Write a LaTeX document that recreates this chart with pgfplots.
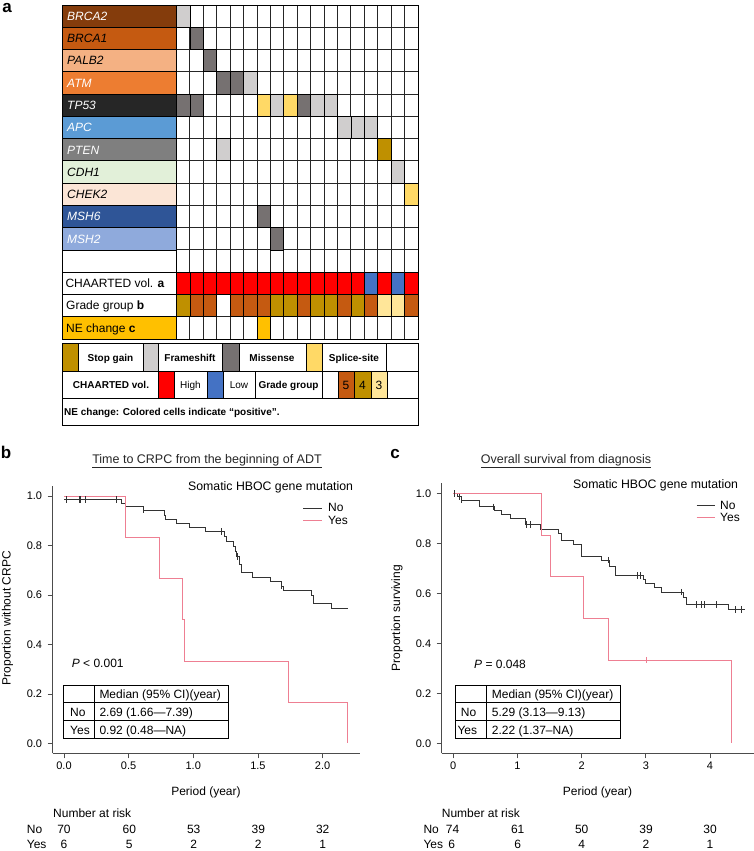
\documentclass[border=0pt]{standalone}
\usepackage{pgfplots}
\pgfplotsset{compat=1.18}
\usepackage{fontspec}
\setmainfont{Liberation Sans}
\newcommand\fs[1]{\fontsize{#1}{#1}\selectfont}
\definecolor{gBRCAii}{HTML}{843C0C}
\definecolor{gBRCAi}{HTML}{C55A11}
\definecolor{gPALB}{HTML}{F4B183}
\definecolor{gATM}{HTML}{ED7D31}
\definecolor{gTP}{HTML}{262626}
\definecolor{gAPC}{HTML}{5B9BD5}
\definecolor{gPTEN}{HTML}{7F7F7F}
\definecolor{gCDH}{HTML}{E2F0D9}
\definecolor{gCHEK}{HTML}{FBE5D6}
\definecolor{gMSHvi}{HTML}{2F5597}
\definecolor{gMSHii}{HTML}{8FAADC}
\definecolor{cStop}{HTML}{BF9000}
\definecolor{cFrame}{HTML}{D0CECE}
\definecolor{cMiss}{HTML}{767171}
\definecolor{cSplice}{HTML}{FFD966}
\definecolor{cHigh}{HTML}{FF0000}
\definecolor{cLow}{HTML}{4472C4}
\definecolor{cGv}{HTML}{C55A11}
\definecolor{cGiv}{HTML}{BF9000}
\definecolor{cGiii}{HTML}{FFE699}
\definecolor{cNE}{HTML}{FFC000}
\definecolor{kmno}{HTML}{333333}
\definecolor{kmyes}{HTML}{EE7F92}
\pgfdeclareplotmark{cell}{%
  \pgfpathrectangle{\pgfpoint{-6.708pt}{-11.133pt}}{\pgfpoint{13.417pt}{22.267pt}}%
  \pgfusepathqfillstroke}
\pgfplotsset{
  kmaxis/.style={anchor=south west, scale only axis,
    axis x line*=bottom, axis y line*=left,
    axis line style={black!70, line width=0.8pt, -},
    tick align=outside, major tick length=5pt,
    tick style={black!70, line width=0.8pt},
    ytick={0,0.2,0.4,0.6,0.8,1}, yticklabels={0.0,0.2,0.4,0.6,0.8,1.0},
    tick label style={font=\fs{11}},
    yticklabel style={xshift=-2pt},
    clip=false},
  cellplot/.style={only marks, mark=cell, mark options={draw=black, fill=#1, line width=0.8pt}}
}
\begin{document}
\begin{tikzpicture}
\path[use as bounding box] (0pt,0pt) rectangle (754pt,-851pt);
\begin{scope}[x=1pt,y=-1pt]
% panel labels
\node[anchor=center, font=\fs{17}\bfseries, inner sep=0] at (7,8) {a};
\node[anchor=center, font=\fs{17}\bfseries, inner sep=0] at (6,452) {b};
\node[anchor=center, font=\fs{17}\bfseries, inner sep=0] at (395,454) {c};
% gene label column
\foreach \r/\nm/\bg/\fg in {1/BRCA2/gBRCAii/white,2/BRCA1/gBRCAi/black,3/PALB2/gPALB/black,4/ATM/gATM/white,5/TP53/gTP/white,6/APC/gAPC/white,7/PTEN/gPTEN/white,8/CDH1/gCDH/black,9/CHEK2/gCHEK/black,10/MSH6/gMSHvi/white,11/MSH2/gMSHii/white}{
  \pgfmathsetmacro\yt{5+(\r-1)*22.267}
  \pgfmathsetmacro\yb{\yt+22.267}
  \draw[fill=\bg, draw=black, line width=0.8pt] (62,\yt) rectangle (176.5,\yb);
  \node[anchor=base west, inner sep=0, text=\fg, font=\fs{12}\itshape] at (67,{(\yt+\yb)/2+4.3}) {\nm};
}
\draw[fill=white, line width=0.8pt] (62,249.94) rectangle (176.5,272.2);
\draw[fill=white, line width=0.8pt] (62,272.2) rectangle (176.5,294.5);
\node[anchor=base west, inner sep=0, font=\fs{12}] at (65.3,287.6) {CHAARTED vol. \textbf{a}};
\draw[fill=white, line width=0.8pt] (62,294.5) rectangle (176.5,316.7);
\node[anchor=base west, inner sep=0, font=\fs{12}] at (66,309.9) {Grade group \textbf{b}};
\draw[fill=cNE, line width=0.8pt] (62,316.7) rectangle (176.5,339);
\node[anchor=base west, inner sep=0, font=\fs{12}] at (66,332.1) {NE change \textbf{c}};
% legend box
\begin{scope}[line width=0.8pt]
\draw[fill=cStop] (62,343.3) rectangle (78,371);
\draw (78,343.3) rectangle (143,371);
\draw[fill=cFrame] (143,343.3) rectangle (158,371);
\draw (158,343.3) rectangle (222,371);
\draw[fill=cMiss] (222,343.3) rectangle (239,371);
\draw (239,343.3) rectangle (306,371);
\draw[fill=cSplice] (306,343.3) rectangle (322,371);
\draw (322,343.3) rectangle (386,371);
\draw (386,343.3) rectangle (418,371);
\draw (62,371) rectangle (158,398);
\draw[fill=cHigh] (158,371) rectangle (174,398);
\draw (174,371) rectangle (207,398);
\draw[fill=cLow] (207,371) rectangle (223,398);
\draw (223,371) rectangle (255,398);
\draw (255,371) rectangle (322,398);
\draw (322,371) rectangle (338,398);
\draw[fill=cGv] (338,371) rectangle (354,398);
\draw[fill=cGiv] (354,371) rectangle (371,398);
\draw[fill=cGiii] (371,371) rectangle (387,398);
\draw (387,371) rectangle (418,398);
\draw (62,398) rectangle (418,425);
\end{scope}
\node[anchor=base, inner sep=0, font=\fs{10}\bfseries] at (110.5,361) {Stop gain};
\node[anchor=base, inner sep=0, font=\fs{10}\bfseries] at (190,361) {Frameshift};
\node[anchor=base, inner sep=0, font=\fs{10}\bfseries] at (272,361) {Missense};
\node[anchor=base, inner sep=0, font=\fs{10}\bfseries] at (354,361) {Splice-site};
\node[anchor=base, inner sep=0, font=\fs{10}\bfseries] at (111,388.5) {CHAARTED vol.};
\node[anchor=base, inner sep=0, font=\fs{10}] at (190.5,388.5) {High};
\node[anchor=base, inner sep=0, font=\fs{10}] at (239,388.5) {Low};
\node[anchor=base, inner sep=0, font=\fs{10}\bfseries] at (288.5,388) {Grade group};
\node[anchor=base, inner sep=0, font=\fs{12}] at (346,389) {5};
\node[anchor=base, inner sep=0, font=\fs{12}] at (362.5,389) {4};
\node[anchor=base, inner sep=0, font=\fs{12}] at (379,389) {3};
\node[anchor=base west, inner sep=0, font=\fs{10}\bfseries] at (64,415.5) {NE change: Colored cells indicate “positive”.};
% titles
\node[anchor=base, inner sep=0, font=\fs{12.5}, text=black!85] at (207,463) {\underline{Time to CRPC from the beginning of ADT}};
\node[anchor=base, inner sep=0, font=\fs{12.5}, text=black!85] at (566,463) {\underline{Overall survival from diagnosis}};
% panel b annotations
\node[anchor=base west, inner sep=0, font=\fs{12.3}] at (188,490.5) {Somatic HBOC gene mutation};
\draw[kmno, line width=0.75pt] (303,508.3) -- (322,508.3);
\node[anchor=base west, inner sep=0, font=\fs{12}] at (328,511.7) {No};
\draw[kmyes, line width=0.75pt] (303,520) -- (322,520);
\node[anchor=base west, inner sep=0, font=\fs{12}] at (328,524) {Yes};
\node[anchor=base west, inner sep=0, font=\fs{12}] at (71.7,667) {\textit{P} < 0.001};
\draw[line width=0.8pt] (63,685) rectangle (228,738.3);
\draw[line width=0.8pt] (63,702.7) -- (228,702.7) (63,720.5) -- (228,720.5) (94.5,685) -- (94.5,738.3);
\node[anchor=base west, inner sep=0, font=\fs{12}] at (99.3,698.5) {Median (95\% CI)(year)};
\node[anchor=base west, inner sep=0, font=\fs{12}] at (70,716.5) {No};
\node[anchor=base west, inner sep=0, font=\fs{12}] at (99.3,716.5) {2.69 (1.66—7.39)};
\node[anchor=base west, inner sep=0, font=\fs{12}] at (70,734.3) {Yes};
\node[anchor=base west, inner sep=0, font=\fs{12}] at (99.3,734.3) {0.92 (0.48—NA)};
\node[anchor=base, inner sep=0, font=\fs{12}] at (206,795.5) {Period (year)};
\node[rotate=90, anchor=center, inner sep=0, font=\fs{12}] at (7.5,618) {Proportion without CRPC};
\node[anchor=base west, inner sep=0, font=\fs{12}] at (53,817) {Number at risk};
\node[anchor=base west, inner sep=0, font=\fs{12}] at (26.7,833.5) {No};
\node[anchor=base west, inner sep=0, font=\fs{12}] at (26.7,848.5) {Yes};
\foreach \x/\a/\b in {64/70/6,129.3/60/5,193.7/53/2,258.3/39/2,322.7/32/1}{
  \node[anchor=base, inner sep=0, font=\fs{12}] at (\x,833.5) {\a};
  \node[anchor=base, inner sep=0, font=\fs{12}] at (\x,848.5) {\b};
}
% panel c annotations
\node[anchor=base west, inner sep=0, font=\fs{12.3}] at (573,488) {Somatic HBOC gene mutation};
\draw[kmno, line width=0.75pt] (696.7,505) -- (715,505);
\node[anchor=base west, inner sep=0, font=\fs{12}] at (720,509) {No};
\draw[kmyes, line width=0.75pt] (696.7,517.3) -- (715,517.3);
\node[anchor=base west, inner sep=0, font=\fs{12}] at (720,521.5) {Yes};
\node[anchor=base west, inner sep=0, font=\fs{12}] at (474,668) {\textit{P} = 0.048};
\draw[line width=0.8pt] (455.7,685) rectangle (620.7,738.3);
\draw[line width=0.8pt] (455.7,702.7) -- (620.7,702.7) (455.7,720.5) -- (620.7,720.5) (486,685) -- (486,738.3);
\node[anchor=base west, inner sep=0, font=\fs{12}] at (491.7,698.5) {Median (95\% CI)(year)};
\node[anchor=base west, inner sep=0, font=\fs{12}] at (460.7,716.5) {No};
\node[anchor=base west, inner sep=0, font=\fs{12}] at (491.7,716.5) {5.29 (3.13—9.13)};
\node[anchor=base west, inner sep=0, font=\fs{12}] at (457.3,734.3) {Yes};
\node[anchor=base west, inner sep=0, font=\fs{12}] at (491.7,734.3) {2.22 (1.37–NA)};
\node[anchor=base, inner sep=0, font=\fs{12}] at (597.5,795) {Period (year)};
\node[rotate=90, anchor=center, inner sep=0, font=\fs{12}] at (397,618) {Proportion surviving};
\node[anchor=base west, inner sep=0, font=\fs{12}] at (441.7,817) {Number at risk};
\node[anchor=base west, inner sep=0, font=\fs{12}] at (423.3,833.5) {No};
\node[anchor=base west, inner sep=0, font=\fs{12}] at (423.3,848.5) {Yes};
\node[anchor=base, inner sep=0, font=\fs{12}] at (452.5,833.5) {74};
\node[anchor=base, inner sep=0, font=\fs{12}] at (451.7,848.5) {6};
\foreach \x/\a/\b in {517.7/61/6,581.7/50/4,646/39/2,710/30/1}{
  \node[anchor=base, inner sep=0, font=\fs{12}] at (\x,833.5) {\a};
  \node[anchor=base, inner sep=0, font=\fs{12}] at (\x,848.5) {\b};
}
\end{scope}

% ---------- panel a grid ----------
\begin{axis}[at={(176.5pt,-339pt)}, anchor=south west, scale only axis,
  width=241.5pt, height=334pt, xmin=0, xmax=18, ymin=0, ymax=15, y dir=reverse,
  xtick={0,...,18}, ytick={0,...,15}, xticklabels={}, yticklabels={},
  major tick length=0pt, grid=major, major grid style={black!85, line width=0.9pt},
  axis line style={black, line width=0.9pt}, clip=false]
\addplot[cellplot=cFrame] coordinates {(0.5,0.5) (5.5,3.5) (7.5,4.5) (10.5,4.5) (11.5,4.5) (12.5,5.5) (13.5,5.5) (14.5,5.5) (3.5,6.5) (16.5,7.5)};
\addplot[cellplot=cMiss] coordinates {(1.5,1.5) (2.5,2.5) (3.5,3.5) (4.5,3.5) (0.5,4.5) (1.5,4.5) (9.5,4.5) (6.5,9.5) (7.5,10.5)};
\addplot[cellplot=cSplice] coordinates {(6.5,4.5) (8.5,4.5) (17.5,8.5)};
\addplot[cellplot=cStop] coordinates {(15.5,6.5)};
\addplot[cellplot=cHigh] coordinates {(0.5,12.5) (1.5,12.5) (2.5,12.5) (3.5,12.5) (4.5,12.5) (5.5,12.5) (6.5,12.5) (7.5,12.5) (8.5,12.5) (9.5,12.5) (10.5,12.5) (11.5,12.5) (12.5,12.5) (13.5,12.5) (15.5,12.5) (17.5,12.5)};
\addplot[cellplot=cLow] coordinates {(14.5,12.5) (16.5,12.5)};
\addplot[cellplot=cGv] coordinates {(1.5,13.5) (2.5,13.5) (4.5,13.5) (5.5,13.5) (6.5,13.5) (9.5,13.5) (12.5,13.5) (14.5,13.5) (17.5,13.5)};
\addplot[cellplot=cGiv] coordinates {(0.5,13.5) (7.5,13.5) (8.5,13.5) (10.5,13.5) (11.5,13.5) (13.5,13.5)};
\addplot[cellplot=cGiii] coordinates {(15.5,13.5) (16.5,13.5)};
\addplot[cellplot=cNE] coordinates {(6.5,14.5)};
\node[font=\fs{12}, inner sep=0] at (axis cs:0.5,13.5) {4};
\node[font=\fs{12}, inner sep=0] at (axis cs:1.5,13.5) {5};
\node[font=\fs{12}, inner sep=0] at (axis cs:15.5,13.5) {3};
\end{axis}

% ---------- panel b ----------
\begin{axis}[kmaxis, at={(52.6pt,-753.3pt)}, width=307.2pt, height=267.1pt,
  xmin=-0.088, xmax=2.288, ymin=-0.04, ymax=1.04,
  xtick={0,0.5,1,1.5,2}, xticklabels={0.0,0.5,1.0,1.5,2.0}]
\addplot[const plot, kmno, line width=0.75pt] coordinates {(0,0.986) (0.446,0.971) (0.477,0.957) (0.613,0.943) (0.776,0.924) (0.785,0.907) (0.871,0.890) (0.967,0.873) (1.096,0.856) (1.240,0.836) (1.253,0.815) (1.31,0.795) (1.325,0.775) (1.335,0.755) (1.355,0.722) (1.37,0.690) (1.459,0.671) (1.593,0.654) (1.685,0.637) (1.696,0.620) (1.915,0.600) (1.928,0.566) (2.07,0.546) (2.2,0.546)};
\addplot[only marks, mark=|, mark size=3.3pt, kmno, mark options={line width=0.7pt}] coordinates {(0.02,0.986) (0.116,0.986) (0.129,0.986) (0.162,0.986) (0.407,0.986) (0.613,0.943) (1.214,0.856) (1.343,0.755) (1.683,0.637)};
\addplot[const plot, kmyes, line width=0.75pt] coordinates {(0,1) (0.477,0.833) (0.735,0.667) (0.915,0.5) (0.93,0.333) (1.735,0.167) (2.194,0)};
\end{axis}

% ---------- panel c ----------
\begin{axis}[kmaxis, at={(441.7pt,-753.3pt)}, width=312pt, height=270pt,
  xmin=-0.18, xmax=4.68, ymin=-0.04, ymax=1.04,
  xtick={0,1,2,3,4}, xticklabels={0,1,2,3,4}]
\addplot[const plot, kmno, line width=0.75pt] coordinates {(0,1) (0.07,0.986) (0.12,0.973) (0.405,0.946) (0.64,0.932) (0.753,0.917) (0.895,0.900) (1.117,0.875) (1.35,0.856) (1.63,0.838) (1.69,0.812) (1.87,0.795) (2.0,0.749) (2.3,0.733) (2.43,0.707) (2.53,0.672) (2.96,0.655) (2.99,0.638) (3.13,0.622) (3.245,0.605) (3.58,0.582) (3.625,0.556) (4.28,0.536) (4.54,0.536)};
\addplot[only marks, mark=|, mark size=3.3pt, kmno, mark options={line width=0.7pt}] coordinates {(0.01,1) (0.094,0.986) (0.13,0.973) (0.623,0.946) (1.143,0.875) (1.20,0.875) (2.415,0.733) (2.87,0.672) (2.91,0.672) (3.557,0.605) (3.79,0.556) (3.87,0.556) (3.91,0.556) (4.10,0.556) (4.40,0.536) (4.48,0.536)};
\addplot[const plot, kmyes, line width=0.75pt] coordinates {(0,1) (1.366,0.833) (1.506,0.667) (2.025,0.5) (2.415,0.333) (4.336,0)};
\addplot[only marks, mark=|, mark size=3.3pt, kmyes, mark options={line width=0.7pt}] coordinates {(3.0,0.333)};
\end{axis}
\end{tikzpicture}
\end{document}
